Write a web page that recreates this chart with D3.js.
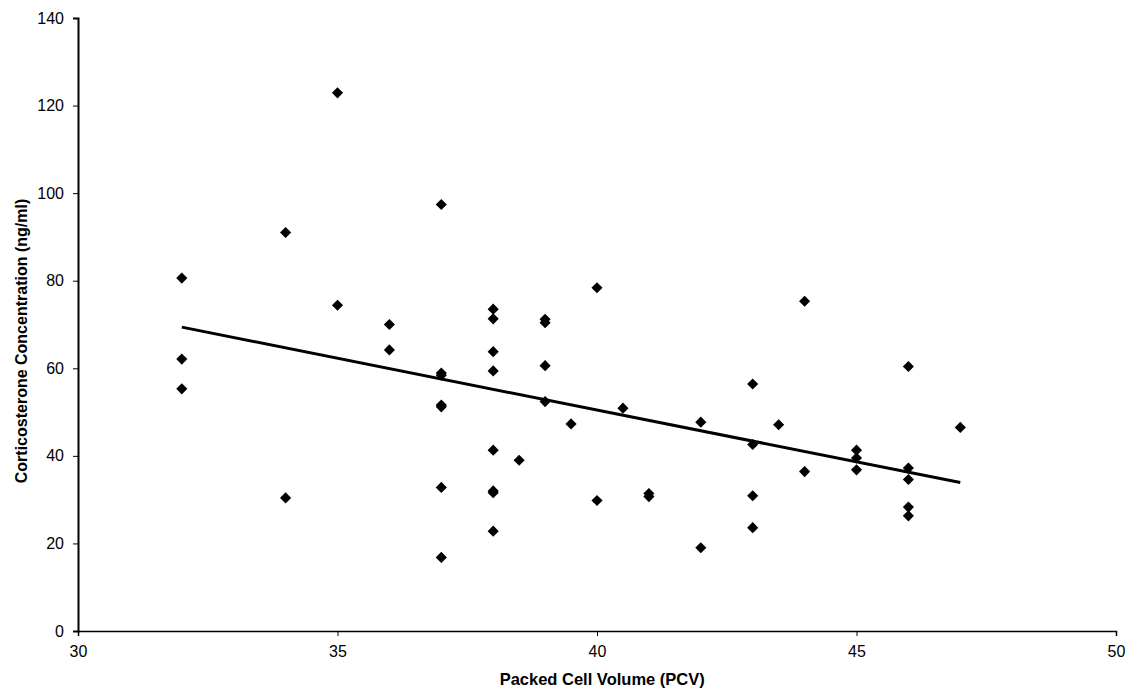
<!DOCTYPE html>
<html>
<head>
<meta charset="utf-8">
<script src="https://cdn.jsdelivr.net/npm/d3@7"></script>
<style>
  body { margin: 0; background: #fff; }
  text { font-family: "Liberation Sans", Arial, sans-serif; fill: #000; }
  .tick text { font-size: 16px; }
  .axis-title { font-size: 16.5px; font-weight: bold; }
</style>
</head>
<body>
<div id="chart"></div>
<script>
// PCV values and matching corticosterone readings (ng/ml)
var pcv = [32, 32, 32, 34, 34, 35, 35, 36, 36,
    37, 37, 37, 37, 37, 37, 37,
    38, 38, 38, 38, 38, 38, 38, 38, 38.5,
    39, 39, 39, 39, 39.5, 40, 40, 40.5, 41, 41, 42, 42,
    43, 43, 43, 43, 43.5, 44, 44, 45, 45, 45,
    46, 46, 46, 46, 46, 47]
var cort = [80.6, 62.1, 55.3, 91.0, 30.4, 122.9, 74.4, 70.0, 64.2,
    97.4, 58.9, 58.4, 51.6, 51.2, 32.8, 16.8,
    73.5, 71.3, 63.8, 59.4, 41.3, 32.0, 31.6, 22.8, 39.0,
    71.2, 70.4, 60.6, 52.4, 47.3, 78.4, 29.8, 50.9, 31.4, 30.7, 47.7, 19.0,
    56.4, 42.6, 30.9, 23.6, 47.1, 75.3, 36.4, 41.3, 39.5, 36.8,
    60.4, 37.2, 34.6, 28.3, 26.3, 46.5]

// linear trend line, ends
var trendX = [32, 47]
var trendY = [69.4, 33.9]

var xTicks = [30, 35, 40, 45, 50]
var yTicks = [0, 20, 40, 60, 80, 100, 120, 140]

var W = 1132, H = 695
var margin = { left: 78, right: 16, top: 18, bottom: 64 }
var width = W - margin.left - margin.right,
    height = H - margin.top - margin.bottom

var svg = d3.select("#chart").append("svg")
    .attr("width", W)
    .attr("height", H)

var g = svg.append("g")
    .attr("transform", "translate(" + margin.left + "," + margin.top + ")")

var x = d3.scaleLinear().domain([30, 50]).range([0, width])
var y = d3.scaleLinear().domain([0, 140]).range([height, 0])

var xAxis = g.append("g")
    .attr("transform", "translate(0," + height + ")")
    .call(d3.axisBottom(x).tickValues(xTicks).tickSize(5).tickPadding(10))
var yAxis = g.append("g")
    .call(d3.axisLeft(y).tickValues(yTicks).tickSize(5).tickPadding(9))

xAxis.select(".domain").attr("stroke", "#000").attr("stroke-width", 1.5)
yAxis.select(".domain").attr("stroke", "#000").attr("stroke-width", 2)
g.selectAll(".tick line").attr("stroke", "#000")
g.selectAll(".tick text").attr("fill", "#000")

// trend line
var pts = trendX.map(function(d, i){ return [d, trendY[i]] })
g.append("path")
    .datum(pts)
    .attr("fill", "none")
    .attr("stroke", "#000")
    .attr("stroke-width", 3)
    .attr("d", d3.line().x(d => x(d[0])).y(d => y(d[1])))

// diamonds
var diamond = d3.symbol().type(d3.symbolSquare).size(62)
g.selectAll(".pt")
    .data(pcv.map(function(d, i){ return { pcv: d, cort: cort[i] } }))
    .enter()
    .append("path")
    .attr("class", "pt")
    .attr("d", diamond)
    .attr("fill", "#000")
    .attr("transform", d => "translate(" + x(d.pcv) + "," + y(d.cort) + ") rotate(45)")

svg.append("text")
    .attr("class", "axis-title")
    .attr("x", margin.left + x(40.1))
    .attr("y", 685)
    .attr("text-anchor", "middle")
    .text("Packed Cell Volume (PCV)")

svg.append("text")
    .attr("class", "axis-title")
    .style("font-size", "16px")
    .attr("transform", "translate(27," + 341 + ") rotate(-90)")
    .attr("text-anchor", "middle")
    .text("Corticosterone Concentration (ng/ml)")
</script>
</body>
</html>
